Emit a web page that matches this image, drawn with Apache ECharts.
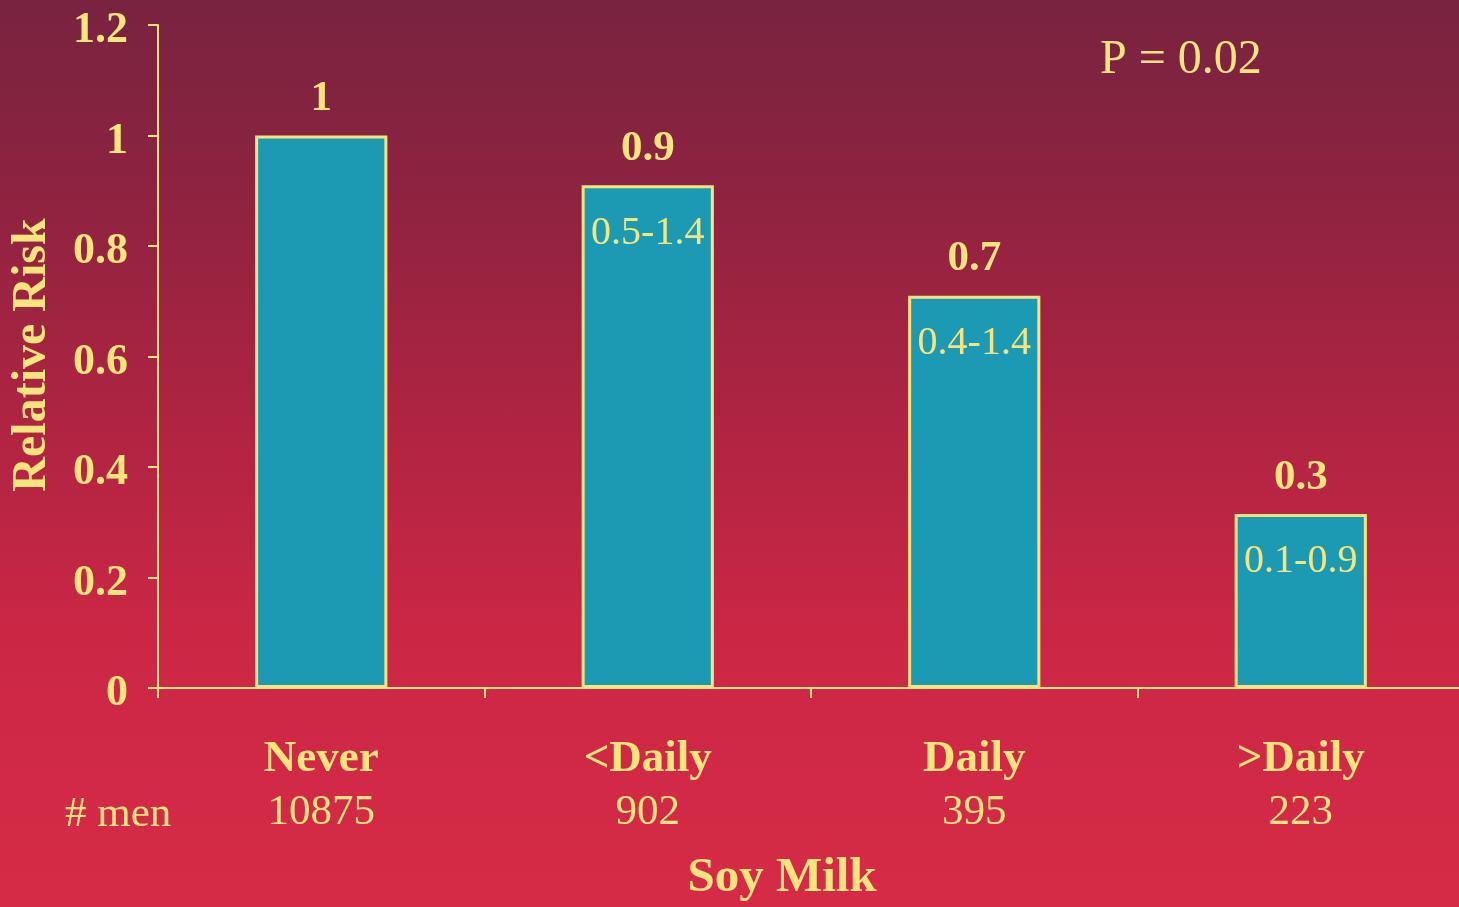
<!DOCTYPE html>
<html>
<head>
<meta charset="utf-8">
<script src="https://cdn.jsdelivr.net/npm/echarts@6/dist/echarts.min.js"></script>
<style>
html,body{margin:0;padding:0;width:1459px;height:907px;overflow:hidden;}
#c{width:1459px;height:907px;background:linear-gradient(to bottom,#782340 0%,#8c2340 20%,#ad2442 45%,#cb2745 70%,#d62b47 100%);}
</style>
</head>
<body>
<div id="c"></div>
<script>
const categories = ['Never', '<Daily', 'Daily', '>Daily'];
const menCounts = ['10875', '902', '395', '223'];
const relativeRisk = [1.0, 0.91, 0.71, 0.315];
const riskLabels = ['1', '0.9', '0.7', '0.3'];
const ciLabels = ['', '0.5-1.4', '0.4-1.4', '0.1-0.9'];
const yTicks = [0, 0.2, 0.4, 0.6, 0.8, 1, 1.2];

const YEL = '#f6e57c';
const FONT = 'Liberation Serif';

const chart = echarts.init(document.getElementById('c'));
chart.setOption({
  backgroundColor: 'transparent',
  animation: false,
  grid: {left: 158, top: 25, bottom: 219, width: 1306, containLabel: false, outerBoundsMode: 'none'},
  xAxis: {
    type: 'category',
    data: categories,
    axisLine: {lineStyle: {color: YEL, width: 2}},
    axisTick: {show: true, length: 10, lineStyle: {color: YEL, width: 2}},
    axisLabel: {
      margin: 45,
      formatter: function (v, i) { return '{a|' + v + '}\n{b|' + menCounts[i] + '}'; },
      rich: {
        a: {fontFamily: FONT, fontWeight: 'bold', fontSize: 45, color: YEL, lineHeight: 53},
        b: {fontFamily: FONT, fontSize: 43, color: YEL, lineHeight: 53}
      }
    }
  },
  yAxis: {
    type: 'value',
    min: 0, max: 1.2, interval: 0.2,
    axisLine: {show: true, lineStyle: {color: YEL, width: 2}},
    axisTick: {show: true, length: 10, lineStyle: {color: YEL, width: 2}},
    splitLine: {show: false},
    axisLabel: {
      margin: 30,
      formatter: function (v) {
        const r = Math.round(v * 10) / 10;
        const idx = yTicks.indexOf(r);
        return idx >= 0 ? '{v|' + String(yTicks[idx]) + '}' : '';
      },
      rich: {
        v: {color: YEL, fontFamily: FONT, fontWeight: 'bold', fontSize: 44, padding: [12, 0, 0, 0]}
      }
    }
  },
  series: [
    {
      type: 'bar',
      data: relativeRisk,
      barWidth: '40.5%',
      itemStyle: {color: '#1c99b3', borderColor: YEL, borderWidth: 3},
      label: {
        show: true, position: 'top', distance: 15,
        color: YEL, fontFamily: FONT, fontWeight: 'bold', fontSize: 43,
        formatter: function (p) { return riskLabels[p.dataIndex]; }
      }
    },
    {
      type: 'bar',
      data: relativeRisk,
      barWidth: '40.5%',
      barGap: '-100%',
      silent: true,
      itemStyle: {color: 'transparent'},
      label: {
        show: true, position: 'insideTop', distance: 28,
        color: YEL, fontFamily: FONT, fontSize: 40,
        formatter: function (p) { return ciLabels[p.dataIndex]; }
      }
    }
  ],
  graphic: [
    {type: 'text', x: 33, y: 355, rotation: Math.PI / 2,
      style: {text: 'Relative Risk', fill: YEL, font: 'bold 48px "Liberation Serif"', align: 'center', verticalAlign: 'middle'}},
    {type: 'text', x: 1100, y: 60,
      style: {text: 'P = 0.02', fill: YEL, font: '48px "Liberation Serif"', align: 'left', verticalAlign: 'middle'}},
    {type: 'text', x: 65, y: 815,
      style: {text: '# men', fill: YEL, font: '43px "Liberation Serif"', align: 'left', verticalAlign: 'middle'}},
    {type: 'text', x: 782, y: 878,
      style: {text: 'Soy Milk', fill: YEL, font: 'bold 49px "Liberation Serif"', align: 'center', verticalAlign: 'middle'}}
  ]
});
</script>
</body>
</html>
